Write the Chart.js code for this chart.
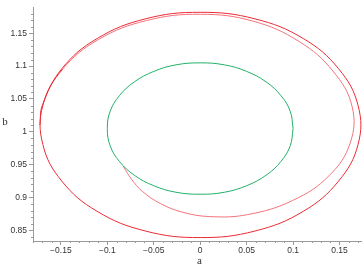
<!DOCTYPE html>
<html>
<head>
<meta charset="utf-8">
<script src="https://cdn.jsdelivr.net/npm/chart.js@4.4.1/dist/chart.umd.min.js"></script>
<style>
  html, body { margin: 0; padding: 0; background: #fff; }
  #wrap { width: 362px; height: 267px; }
</style>
</head>
<body>
<div id="wrap"><canvas id="phase"></canvas></div>
<script>
// tick values and labels
const xTicks = [-0.15, -0.1, -0.05, 0, 0.05, 0.1, 0.15];
const xTickLabels = ['\u22120.15', '\u22120.1', '\u22120.05', '0', '0.05', '0.1', '0.15'];
const yTicks = [0.85, 0.9, 0.95, 1, 1.05, 1.1, 1.15];
const yTickLabels = ['0.85', '0.9', '0.95', '1', '1.05', '1.1', '1.15'];

// green closed orbit
const greenA = [0.100, 0.097, 0.087, 0.071, 0.050, 0.026, 0.000, -0.026, -0.050, -0.071, -0.087, -0.097,
                -0.100, -0.097, -0.087, -0.071, -0.050, -0.026, 0.000, 0.026, 0.050, 0.071, 0.087, 0.097, 0.100];
const greenB = [1.005, 1.031, 1.055, 1.076, 1.092, 1.102, 1.105, 1.102, 1.092, 1.076, 1.055, 1.031,
                1.005, 0.979, 0.955, 0.934, 0.918, 0.908, 0.905, 0.908, 0.918, 0.934, 0.955, 0.979, 1.005];

// red trajectory leaving the green orbit and winding out to the outer cycle
const redA = [-0.083, -0.074, -0.062, -0.043, -0.020, 0.010, 0.051, 0.0997, 0.1386, 0.1615, 0.1635,
              0.1429, 0.1067, 0.0571, 0.000, -0.0578, -0.1093, -0.148, -0.1694, -0.1694, -0.149,
              -0.111, -0.059, 0.000, 0.059, 0.111, 0.149, 0.170, 0.170, 0.149, 0.111, 0.059,
              0.000, -0.059, -0.111, -0.149, -0.170, -0.1725];
const redB = [0.948, 0.928, 0.909, 0.891, 0.878, 0.871, 0.874, 0.8956, 0.933, 0.983, 1.0387,
              1.0925, 1.1373, 1.1684, 1.179, 1.1694, 1.1407, 1.0955, 1.0403, 0.9808, 0.925,
              0.879, 0.849, 0.839, 0.849, 0.879, 0.925, 0.981, 1.040, 1.096, 1.142, 1.172,
              1.182, 1.172, 1.142, 1.096, 1.040, 1.0105];

const toPoints = (xs, ys) => xs.map((x, i) => ({ x: x, y: ys[i] }));

const axisColor = '#9a9a9a';
const tickFont = { family: 'Liberation Sans', size: 8.5 };

// small minor ticks every 0.01 and the axis names
const extrasPlugin = {
    id: 'extras',
    afterDraw(chart) {
        const ctx = chart.ctx;
        const xs = chart.scales.x, ys = chart.scales.y;
        const area = chart.chartArea;
        ctx.save();
        ctx.strokeStyle = axisColor;
        ctx.lineWidth = 1;
        ctx.beginPath();
        for (let k = Math.ceil(xs.min * 100); k <= Math.floor(xs.max * 100); k++) {
            if (k % 5 === 0) continue;
            const px = Math.round(xs.getPixelForValue(k / 100)) + 0.5;
            ctx.moveTo(px, area.bottom);
            ctx.lineTo(px, area.bottom + 2);
        }
        for (let k = Math.ceil(ys.min * 100); k <= Math.floor(ys.max * 100); k++) {
            if (k % 5 === 0) continue;
            const py = Math.round(ys.getPixelForValue(k / 100)) + 0.5;
            ctx.moveTo(area.left - 2, py);
            ctx.lineTo(area.left, py);
        }
        ctx.stroke();

        ctx.fillStyle = '#333';
        ctx.font = '11px "Liberation Serif"';
        ctx.textAlign = 'center';
        ctx.textBaseline = 'middle';
        ctx.fillText('a', (area.left + area.right) / 2 + 2, 261);
        ctx.fillText('b', 5, 122);
        ctx.restore();
    }
};

new Chart(document.getElementById('phase'), {
    type: 'scatter',
    data: {
        datasets: [{
            label: 'green',
            data: toPoints(greenA, greenB),
            showLine: true,
            borderColor: '#22b06a',
            borderWidth: 1,
            pointRadius: 0,
            tension: 0.4
        }, {
            label: 'red',
            data: toPoints(redA, redB),
            showLine: true,
            borderColor: '#ec2a34',
            borderWidth: 1,
            pointRadius: 0,
            tension: 0.4,
            segment: {
                borderColor: c => c.p0DataIndex < 17 ? '#f3747b' : '#ec2a34'
            }
        }]
    },
    options: {
        responsive: true,
        maintainAspectRatio: false,
        animation: false,
        layout: { padding: 0 },
        plugins: {
            legend: { display: false },
            tooltip: { enabled: false }
        },
        scales: {
            x: {
                type: 'linear',
                min: -0.18,
                max: 0.1742,
                afterBuildTicks: s => { s.ticks = xTicks.map(v => ({ value: v })); },
                afterFit: s => { s.height = 26; },
                grid: { drawOnChartArea: false, drawTicks: true, tickLength: 4, color: axisColor },
                border: { display: true, color: axisColor },
                ticks: {
                    autoSkip: false,
                    maxRotation: 0,
                    padding: 1,
                    color: '#333',
                    font: tickFont,
                    callback: (v, i) => xTickLabels[i]
                }
            },
            y: {
                type: 'linear',
                min: 0.8338,
                max: 1.1899,
                afterBuildTicks: s => { s.ticks = yTicks.map(v => ({ value: v })); },
                afterFit: s => { s.width = 33; },
                grid: { drawOnChartArea: false, drawTicks: true, tickLength: 4, color: axisColor },
                border: { display: true, color: axisColor },
                ticks: {
                    autoSkip: false,
                    padding: 2,
                    color: '#333',
                    font: tickFont,
                    callback: (v, i) => yTickLabels[i]
                }
            }
        }
    },
    plugins: [extrasPlugin]
});
</script>
</body>
</html>
